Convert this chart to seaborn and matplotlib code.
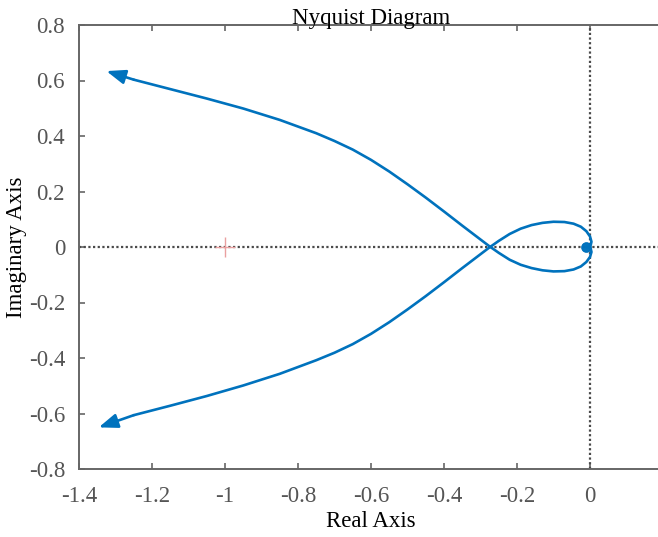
import matplotlib
matplotlib.use("Agg")
import matplotlib.pyplot as plt
import seaborn as sns
import pandas as pd

# ---- data ----
# branch drawn with the upper-left arrow (ends in the lower lobe)
re_upper = [-1.325, -1.250, -1.150, -1.050, -0.950, -0.850, -0.750, -0.700, -0.650,
            -0.600, -0.550, -0.500, -0.450, -0.400, -0.350, -0.300, -0.277, -0.250,
            -0.220, -0.190, -0.160, -0.130, -0.100, -0.070, -0.045, -0.025, -0.010,
            0.000, 0.004, 0.002, -0.004, -0.010]
im_upper = [0.634, 0.603, 0.569, 0.535, 0.499, 0.458, 0.410, 0.382, 0.351,
            0.314, 0.272, 0.226, 0.178, 0.128, 0.077, 0.027, 0.004, -0.021,
            -0.046, -0.064, -0.076, -0.084, -0.088, -0.087, -0.081, -0.070, -0.054,
            -0.036, -0.018, -0.006, -0.001, 0.000]
# branch drawn with the lower-left arrow (ends in the upper lobe)
re_lower = [-1.346, -1.250, -1.150, -1.050, -0.950, -0.850, -0.750, -0.700, -0.650,
            -0.600, -0.550, -0.500, -0.450, -0.400, -0.350, -0.300, -0.277, -0.250,
            -0.220, -0.190, -0.160, -0.130, -0.100, -0.070, -0.045, -0.025, -0.010,
            0.000, 0.004, 0.002, -0.004, -0.010]
im_lower = [-0.650, -0.606, -0.572, -0.537, -0.499, -0.457, -0.408, -0.381, -0.350,
            -0.313, -0.271, -0.225, -0.177, -0.127, -0.076, -0.026, -0.003, 0.022,
            0.047, 0.066, 0.079, 0.087, 0.091, 0.090, 0.084, 0.073, 0.057,
            0.038, 0.019, 0.007, 0.001, 0.000]
critical_re = [-1.0]
critical_im = [0.0]

x_ticks = [-1.4, -1.2, -1.0, -0.8, -0.6, -0.4, -0.2, 0.0]
x_ticklabels = ["-1.4", "-1.2", "-1", "-0.8", "-0.6", "-0.4", "-0.2", "0"]
y_ticks = [-0.8, -0.6, -0.4, -0.2, 0.0, 0.2, 0.4, 0.6, 0.8]
y_ticklabels = ["-0.8", "-0.6", "-0.4", "-0.2", "0", "0.2", "0.4", "0.6", "0.8"]

# ---- style ----
sns.set_style("ticks")
plt.rcParams["font.family"] = ["Liberation Serif", "DejaVu Serif"]

LINE = "#0072BD"
GRAY = "#666666"
FS = 16.5

fig = plt.figure(figsize=(6.58, 5.37), dpi=100)
W, H = 658, 537
left_px, right_px, top_px, bottom_px = 79, 663, 25, 469
ax = fig.add_axes([left_px / W, 1 - bottom_px / H,
                   (right_px - left_px) / W, (bottom_px - top_px) / H])

df_up = pd.DataFrame({"re": re_upper, "im": im_upper})
df_lo = pd.DataFrame({"re": re_lower, "im": im_lower})

# zero lines
ax.axhline(0, color="#4a4a4a", lw=1.6, ls=(0, (1, 1.1)), zorder=1)
ax.axvline(0, color="#4a4a4a", lw=1.6, ls=(0, (1, 1.1)), zorder=1)

# critical point
ax.plot(critical_re, critical_im, marker="+", color="#eaa0a0", ms=15, mew=1.0,
        ls="none", zorder=2)

for df in (df_up, df_lo):
    body = df.iloc[1:]
    sns.lineplot(data=body, x="re", y="im", sort=False, estimator=None,
                 color=LINE, lw=1.9, ax=ax, zorder=3)
    # last segment with a filled arrow head at the far end of the branch
    ax.annotate("", xy=(df["re"].iloc[0], df["im"].iloc[0]),
                xytext=(df["re"].iloc[1], df["im"].iloc[1]),
                arrowprops=dict(arrowstyle="-|>,head_length=0.95,head_width=0.36",
                                color=LINE, lw=1.9, mutation_scale=12,
                                shrinkA=0, shrinkB=0),
                zorder=4)
    # blob where the curve winds into the origin
    ax.plot(df["re"].iloc[-1], df["im"].iloc[-1], marker="o", color=LINE,
            ms=6.5, alpha=0.85, ls="none", zorder=4)

ax.set_xlim(-1.4, 0.2)
ax.set_ylim(-0.8, 0.8)
ax.set_xticks(x_ticks)
ax.set_xticklabels(x_ticklabels)
ax.set_yticks(y_ticks)
ax.set_yticklabels(y_ticklabels)

ax.tick_params(axis="both", direction="in", length=4.3, width=1.2, color=GRAY,
               labelsize=FS, labelcolor="#555555")
ax.tick_params(axis="x", top=True, pad=12)
ax.tick_params(axis="y", right=False, pad=10)

for side in ("left", "bottom", "top"):
    ax.spines[side].set_color(GRAY)
    ax.spines[side].set_linewidth(1.4)
ax.spines["right"].set_visible(False)

ax.set_xlabel("Real Axis", fontsize=FS, color="black", labelpad=3)
ax.set_ylabel("Imaginary Axis", fontsize=FS, color="black", labelpad=1)
ax.set_title("Nyquist Diagram", fontsize=FS, color="black", pad=1)

fig.savefig("out.png", dpi=100)
